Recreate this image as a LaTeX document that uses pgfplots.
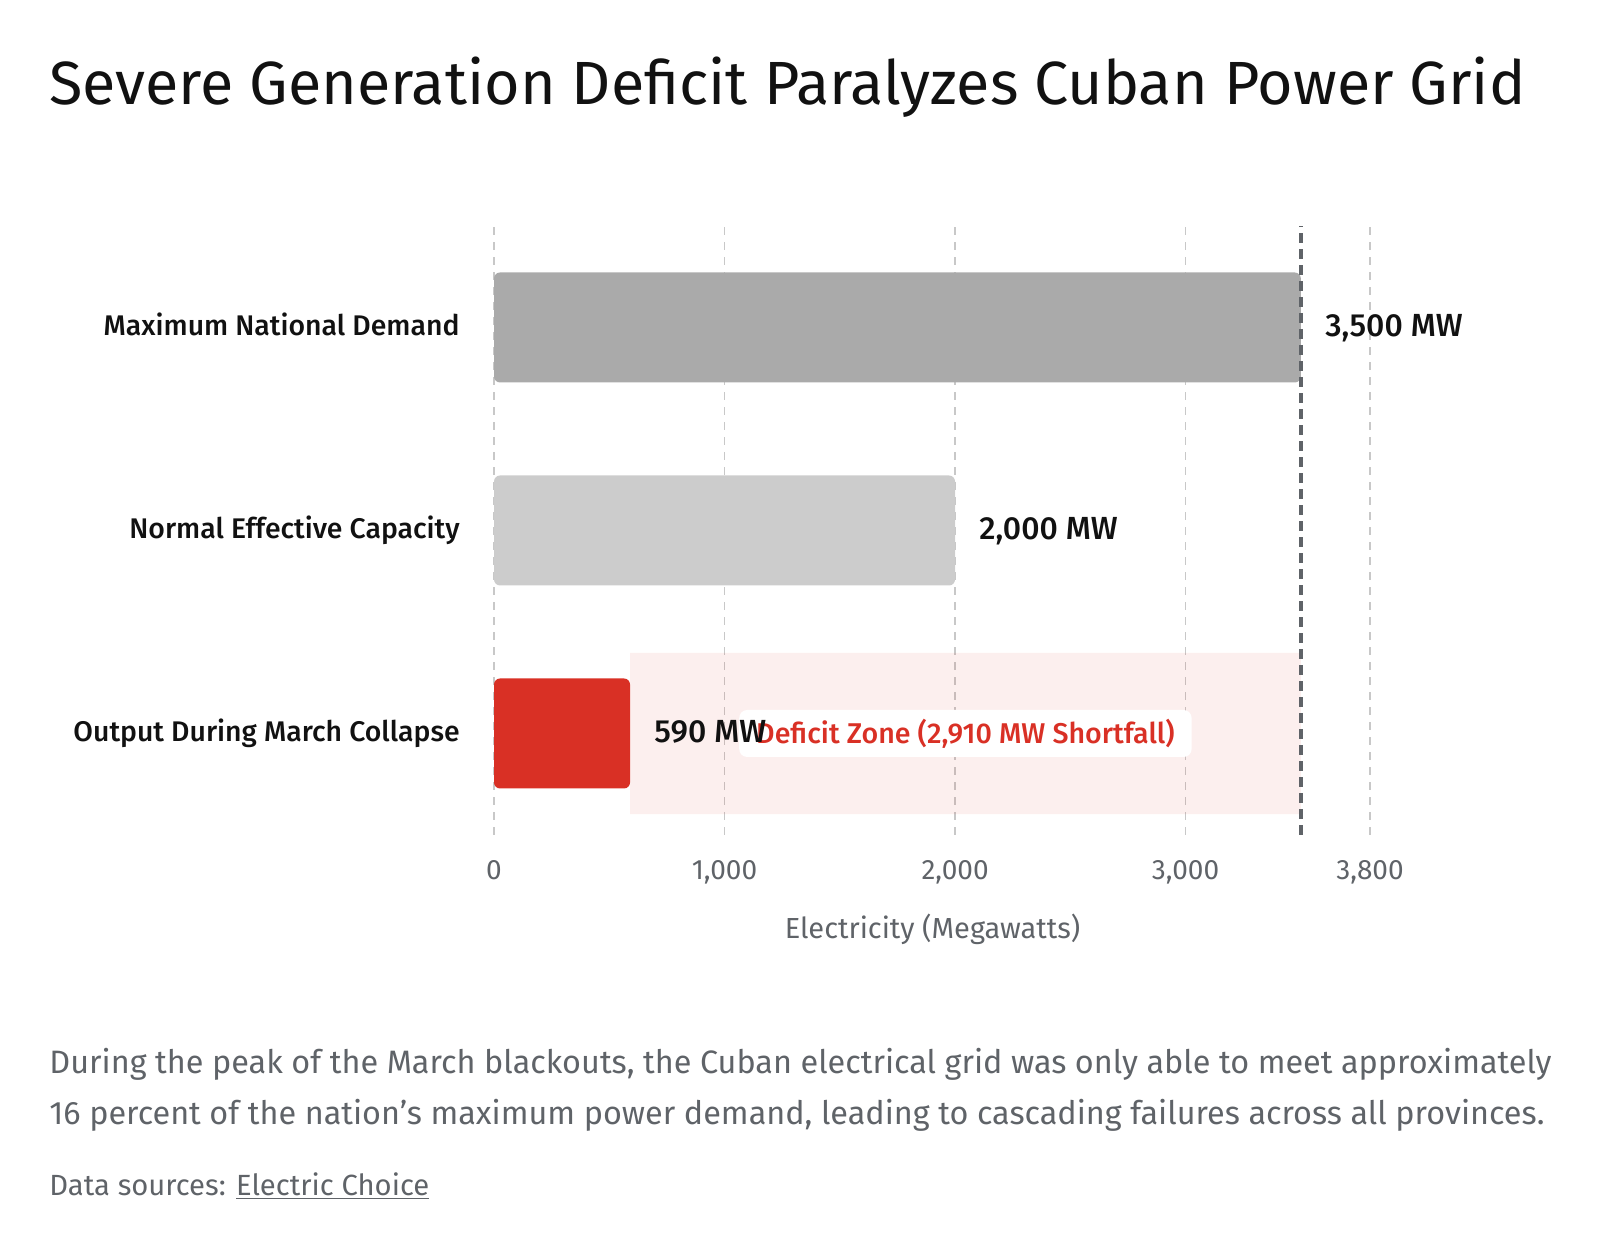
\documentclass[border=0pt]{standalone}
\usepackage{fontspec}
\setmainfont{Fira Sans}[BoldFont={Fira Sans Medium}]
\usepackage{pgfplots}
\pgfplotsset{compat=1.18}

\definecolor{demand}{HTML}{AAAAAA}
\definecolor{capacity}{HTML}{CCCCCC}
\definecolor{collapse}{HTML}{D93025}
\definecolor{textgray}{HTML}{5F6368}
\definecolor{ink}{HTML}{111111}
\definecolor{gridgray}{HTML}{C8C8C8}

\begin{document}
\begin{tikzpicture}
\useasboundingbox (0,0) rectangle (800bp,626bp);

% title
\node[anchor=base west, inner sep=0pt, text=ink] at (24.5bp,573.5bp)
  {\fontsize{30.5bp}{36bp}\selectfont Severe Generation Deficit Paralyzes Cuban Power Grid};

\begin{axis}[
  at={(247bp,208.5bp)}, anchor=south west,
  scale only axis, width=438bp, height=304.5bp,
  xmin=0, xmax=3800, ymin=-0.5, ymax=2.5,
  clip=false,
  axis line style={draw=none},
  major tick length=0pt,
  xtick={0,1000,2000,3000,3800},
  ytick={0,1,2},
  yticklabels={Output During March Collapse, Normal Effective Capacity, Maximum National Demand},
  /pgf/number format/assume math mode=true,
  /pgf/number format/1000 sep={,},
  xmajorgrids,
  major grid style={gridgray, dash pattern=on 4bp off 3.5bp, line width=0.6bp},
  xticklabel style={anchor=base, inner sep=0pt, yshift=-22.5bp, text=textgray,
    font=\fontsize{14bp}{16bp}\selectfont},
  yticklabel style={anchor=base east, inner sep=0pt, xshift=-17bp, yshift=-4bp, text=ink,
    font=\fontsize{14.2bp}{16bp}\selectfont\bfseries},
  every node near coord/.append style={anchor=base west, inner sep=0pt, xshift=12bp, yshift=-4.5bp,
    text=ink, font=\fontsize{16bp}{18bp}\selectfont\bfseries},
  nodes near coords={\pgfmathprintnumber{\pgfplotspointmeta}~MW},
  point meta=x,
]
% deficit zone between collapse output and peak demand
\addplot[draw=none, fill=collapse, fill opacity=0.08, nodes near coords={}]
  coordinates {(590,-0.397) (3500,-0.397) (3500,0.397) (590,0.397) (590,-0.397)};

% zone label, in the middle of the zone
\addplot[draw=none, mark=none,
  nodes near coords={Deficit Zone (2,910 MW Shortfall)},
  every node near coord/.style={anchor=center, fill=white, rounded corners=4bp,
    inner xsep=8.5bp, inner ysep=0pt, minimum height=23.5bp,
    text=collapse, font=\fontsize{14.3bp}{16bp}\selectfont\bfseries}]
  coordinates {(2045,0)};

\addplot[xbar, bar shift=0pt, bar width=55bp, draw=none, fill=demand, rounded corners=3bp]
  coordinates {(3500,2)};
\addplot[xbar, bar shift=0pt, bar width=55bp, draw=none, fill=capacity, rounded corners=3bp]
  coordinates {(2000,1)};
\addplot[xbar, bar shift=0pt, bar width=55bp, draw=none, fill=collapse, rounded corners=3bp]
  coordinates {(590,0)};

% peak demand marker
\addplot[textgray, line width=2bp, dash pattern=on 5bp off 3bp, nodes near coords={}]
  coordinates {(3500,-0.5) (3500,2.5)};
\end{axis}

% axis title
\node[anchor=base, inner sep=0pt, text=textgray] at (466.25bp,156.5bp)
  {\fontsize{14.5bp}{17bp}\selectfont Electricity (Megawatts)};

% caption
\node[anchor=base west, inner sep=0pt, text=textgray] at (24.5bp,89bp)
  {\fontsize{16.2bp}{19bp}\selectfont During the peak of the March blackouts, the Cuban electrical grid was only able to meet approximately};
\node[anchor=base west, inner sep=0pt, text=textgray] at (24.5bp,63.75bp)
  {\fontsize{16.2bp}{19bp}\selectfont 16 percent of the nation's maximum power demand, leading to cascading failures across all provinces.};
\node[anchor=base west, inner sep=0pt, text=textgray] at (24.5bp,28.5bp)
  {\fontsize{14.6bp}{17bp}\selectfont Data sources: \underline{Electric Choice}};
\end{tikzpicture}
\end{document}
